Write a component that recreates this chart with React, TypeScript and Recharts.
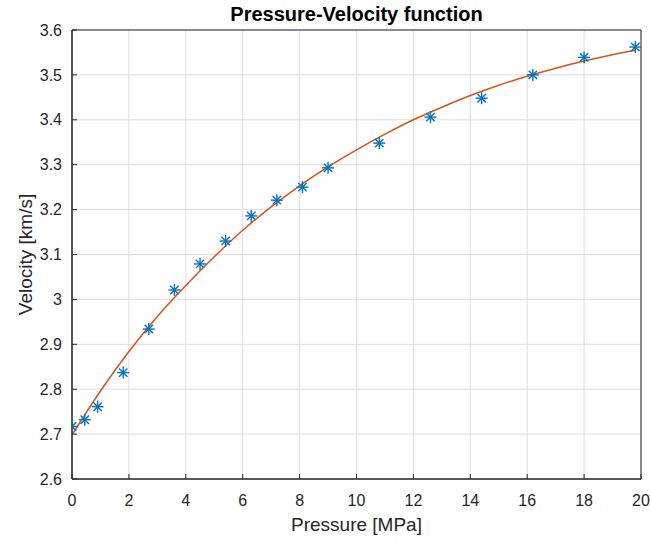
import {
  ComposedChart,
  Line,
  Scatter,
  XAxis,
  YAxis,
  CartesianGrid,
  ReferenceArea,
} from "recharts";

// measured points
const pressure = [0, 0.45, 0.9, 1.8, 2.7, 3.6, 4.5, 5.4, 6.3, 7.2, 8.1, 9.0, 10.8, 12.6, 14.4, 16.2, 18.0, 19.8];
const velocity = [2.717, 2.732, 2.761, 2.837, 2.934, 3.021, 3.079, 3.13, 3.186, 3.221, 3.25, 3.293, 3.348, 3.406, 3.448, 3.5, 3.539, 3.562];

// fitted curve
const fitPressure = [0, 1, 2, 3, 4, 5, 6, 7, 8, 9, 10, 11, 12, 13, 14, 15, 16, 17, 18, 19, 19.8];
const fitVelocity = [2.698, 2.796, 2.884, 2.962, 3.031, 3.095, 3.154, 3.206, 3.253, 3.295, 3.333, 3.368, 3.4, 3.428, 3.454, 3.477, 3.497, 3.515, 3.531, 3.545, 3.555];

const xTicks = [0, 2, 4, 6, 8, 10, 12, 14, 16, 18, 20];
const yTicks = [2.6, 2.7, 2.8, 2.9, 3.0, 3.1, 3.2, 3.3, 3.4, 3.5, 3.6];

const measured = pressure.map((p, i) => ({ p, v: velocity[i] }));
const fitted = fitPressure.map((p, i) => ({ p, v: fitVelocity[i] }));

const FONT = "'Liberation Sans', Arial, Helvetica, sans-serif";
const AXIS = "#262626";
const tickStyle = { fontSize: 16, fill: AXIS, fontFamily: FONT };
const axisLine = { stroke: AXIS, strokeWidth: 1 };
const tickLine = { stroke: AXIS, strokeWidth: 1 };

const Star = (props: any) => {
  const { cx, cy } = props;
  if (cx == null || cy == null) return <g />;
  const r = 6;
  const d = r * 0.7;
  return (
    <g stroke="#0072BD" strokeWidth={1.4}>
      <line x1={cx - r} y1={cy} x2={cx + r} y2={cy} />
      <line x1={cx} y1={cy - r} x2={cx} y2={cy + r} />
      <line x1={cx - d} y1={cy - d} x2={cx + d} y2={cy + d} />
      <line x1={cx - d} y1={cy + d} x2={cx + d} y2={cy - d} />
    </g>
  );
};

const fmt = (v: number) => String(+v.toFixed(1));

export default function App() {
  return (
    <div
      style={{
        position: "absolute",
        left: 0,
        top: 0,
        width: 651,
        height: 542,
        background: "#fff",
      }}
    >
      <div
        style={{
          position: "absolute",
          left: 72,
          width: 569,
          top: 4,
          lineHeight: "20px",
          textAlign: "center",
          fontFamily: FONT,
          fontWeight: "bold",
          fontSize: 20,
          color: "#000",
        }}
      >
        Pressure-Velocity function
      </div>
      <ComposedChart
        width={651}
        height={542}
        margin={{ top: 30, right: 10, bottom: 0, left: 0 }}
      >
        <CartesianGrid stroke="#dedede" strokeWidth={1} />
        <XAxis
          dataKey="p"
          type="number"
          domain={[0, 20]}
          ticks={xTicks}
          height={63}
          tick={tickStyle}
          tickSize={-5}
          tickMargin={21}
          axisLine={axisLine}
          tickLine={tickLine}
          allowDataOverflow
          label={{
            value: "Pressure [MPa]",
            position: "insideBottom",
            offset: 11,
            fill: AXIS,
            fontSize: 19,
            fontFamily: FONT,
          }}
        />
        <XAxis
          xAxisId="top"
          orientation="top"
          type="number"
          domain={[0, 20]}
          ticks={xTicks}
          height={0}
          tick={() => <g />}
          tickSize={-5}
          axisLine={axisLine}
          tickLine={tickLine}
        />
        <YAxis
          type="number"
          domain={[2.6, 3.6]}
          ticks={yTicks}
          width={72}
          tick={tickStyle}
          tickFormatter={fmt}
          tickSize={-5}
          tickMargin={15}
          axisLine={axisLine}
          tickLine={tickLine}
          allowDataOverflow
          label={{
            content: (props: any) => {
              const vb = props.viewBox || { y: 30, height: 449 };
              const cx = 25;
              const cy = vb.y + vb.height / 2;
              return (
                <text
                  x={cx}
                  y={cy}
                  transform={`rotate(-90 ${cx} ${cy})`}
                  textAnchor="middle"
                  dominantBaseline="central"
                  fill={AXIS}
                  fontSize={19}
                  fontFamily={FONT}
                >
                  Velocity [km/s]
                </text>
              );
            },
          }}
        />
        <YAxis
          yAxisId="right"
          orientation="right"
          type="number"
          domain={[2.6, 3.6]}
          ticks={yTicks}
          width={0}
          tick={() => <g />}
          tickSize={-5}
          axisLine={axisLine}
          tickLine={tickLine}
        />
        <ReferenceArea
          x1={0}
          x2={20}
          y1={2.6}
          y2={3.6}
          fill="none"
          fillOpacity={0}
          stroke={AXIS}
          strokeWidth={1}
        />
        <Line
          data={fitted}
          dataKey="v"
          type="monotone"
          stroke="#D95319"
          strokeWidth={1.5}
          dot={false}
          activeDot={false}
          isAnimationActive={false}
        />
        <Scatter
          data={measured}
          dataKey="v"
          shape={Star}
          isAnimationActive={false}
        />
      </ComposedChart>
    </div>
  );
}
